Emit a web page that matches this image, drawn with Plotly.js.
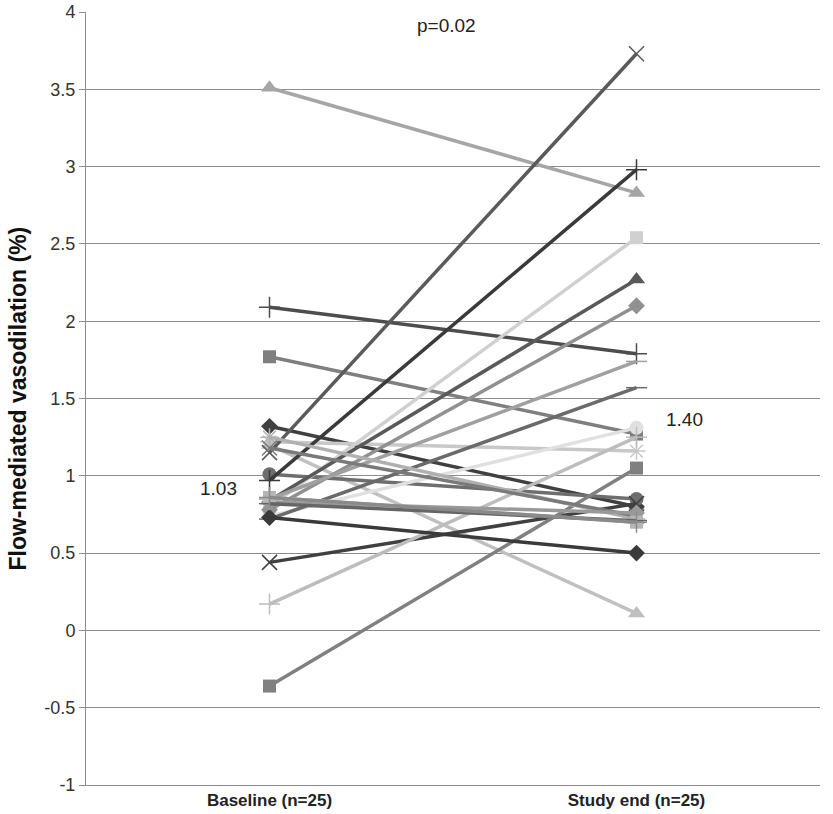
<!DOCTYPE html>
<html>
<head>
<meta charset="utf-8">
<script src="https://cdn.plot.ly/plotly-3.0.1.min.js"></script>
<style>html,body{margin:0;padding:0;background:#fff;}#chart{width:833px;height:814px;}</style>
</head>
<body>
<div id="chart"></div>
<script>
const categories = ['Baseline (n=25)', 'Study end (n=25)'];
const baseline = [3.51, 2.09, 1.77, 1.32, 1.22, 1.20, 1.15, 1.01, 0.97, 0.74, 0.44, 0.17, -0.36, 0.80, 0.84, 0.78, 0.85, 0.72, 0.73, 1.25, 1.18, 0.83, 0.86, 0.82, 0.86];
const studyEnd = [2.83, 1.79, 1.27, 0.80, 1.16, 0.11, 3.73, 0.85, 2.98, 1.31, 0.82, 1.25, 1.05, 2.54, 2.27, 2.10, 1.74, 1.57, 0.50, 0.72, 0.74, 0.76, 0.70, 0.71, 0.70];
const yTickVals = [-1, -0.5, 0, 0.5, 1, 1.5, 2, 2.5, 3, 3.5, 4];
const yTickText = ['-1', '-0.5', '0', '0.5', '1', '1.5', '2', '2.5', '3', '3.5', '4'];
const meanLabels = ['1.03', '1.40'];
const pText = 'p=0.02';
const yTitle = 'Flow-mediated vasodilation (%)';

// styles
const symbols = ['triangle-up','cross-thin','square','diamond','asterisk','triangle-up','x-thin','circle','cross-thin','circle','x-thin','cross-thin','square','square','triangle-up','diamond','line-ew','line-ew','diamond','asterisk','x-thin','diamond','square','line-ew','cross-thin'];
const colors = ['#a6a6a6','#4d4d4d','#7f7f7f','#404040','#c8c8c8','#c0c0c0','#5a5a5a','#6e6e6e','#3a3a3a','#e0e0e0','#404040','#bdbdbd','#808080','#d0d0d0','#595959','#909090','#a0a0a0','#6a6a6a','#3a3a3a','#b0b0b0','#7a7a7a','#999999','#b5b5b5','#666666','#8a8a8a'];

const thin = s => ['cross-thin','x-thin','asterisk','line-ew'].includes(s);
const sizeOf = s => thin(s) ? 15 : (s === 'triangle-up' ? 15 : (s === 'circle' ? 14 : 13));
const traces = baseline.map((b, i) => ({
  type: 'scatter', mode: 'lines+markers',
  x: categories, y: [b, studyEnd[i]],
  line: {color: colors[i], width: 3.5},
  marker: {symbol: symbols[i], size: sizeOf(symbols[i]), color: colors[i],
           line: {color: colors[i], width: thin(symbols[i]) ? 1.5 : 0}},
  showlegend: false, hoverinfo: 'skip'
}));

const layout = {
  width: 833, height: 814,
  margin: {l: 86, r: 13, t: 12, b: 29},
  paper_bgcolor: '#fff', plot_bgcolor: '#fff',
  font: {family: 'Liberation Sans, Arial, sans-serif', color: '#222'},
  showlegend: false,
  xaxis: {
    type: 'category', range: [-0.5, 1.5], showgrid: false, zeroline: false,
    showline: true, linecolor: '#8c8c8c', linewidth: 1,
    ticks: '', tickfont: {size: 17, color: '#222', family: 'Liberation Sans, Arial, sans-serif', weight: 'bold'},
    automargin: false
  },
  yaxis: {
    range: [-1, 4], tickmode: 'array', tickvals: yTickVals, ticktext: yTickText,
    showgrid: true, gridcolor: '#8c8c8c', gridwidth: 1,
    zeroline: false, showline: true, linecolor: '#8c8c8c', linewidth: 1,
    ticks: 'outside', ticklen: 6, tickcolor: '#8c8c8c',
    tickfont: {size: 18, color: '#333'},
    automargin: false
  },
  annotations: [
    {xref: 'paper', yref: 'paper', x: -0.094, y: 0.5, xanchor: 'center', yanchor: 'middle', textangle: -90,
     text: '<b>' + yTitle + '</b>', showarrow: false, font: {size: 23, color: '#111'}},
    {x: 0, y: 0.92, xref: 'x', yref: 'y', text: meanLabels[0], showarrow: false, xanchor: 'center', xshift: -51, font: {size: 19, color: '#222'}},
    {x: 1, y: 1.365, xref: 'x', yref: 'y', text: meanLabels[1], showarrow: false, xanchor: 'center', xshift: 48, font: {size: 19, color: '#222'}},
    {x: 0.5, y: 3.91, xref: 'x', yref: 'y', text: pText, showarrow: false, xanchor: 'center', xshift: -7, font: {size: 19, color: '#222'}}
  ]
};
Plotly.newPlot('chart', traces, layout, {staticPlot: true});
</script>
</body>
</html>
